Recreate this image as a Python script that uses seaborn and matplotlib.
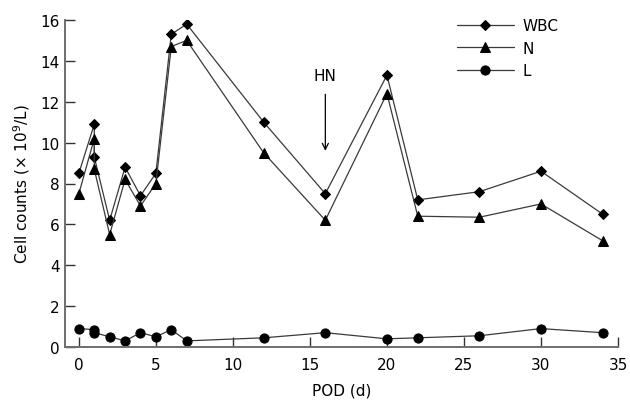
import numpy as np
import pandas as pd
import matplotlib
matplotlib.use("Agg")
import matplotlib.pyplot as plt
import seaborn as sns

# %% veriler
pod = [0, 1, 1, 2, 3, 4, 5, 6, 7, 12, 16, 20, 22, 26, 30, 34]
wbc = [8.5, 10.9, 9.3, 6.2, 8.8, 7.4, 8.5, 15.3, 15.8, 11.0, 7.5, 13.3, 7.2, 7.6, 8.6, 6.5]
n = [7.5, 10.2, 8.7, 5.5, 8.2, 6.9, 8.0, 14.7, 15.0, 9.5, 6.2, 12.4, 6.4, 6.35, 7.0, 5.2]
l = [0.9, 0.85, 0.7, 0.5, 0.3, 0.7, 0.5, 0.85, 0.3, 0.45, 0.7, 0.4, 0.45, 0.55, 0.9, 0.7]
seriler = ["WBC", "N", "L"]
isaretler = {"WBC": "D", "N": "^", "L": "o"}
# işaret boyutları (nokta)
boyutlar = {"D": 5.6, "^": 6.8, "o": 6.6}

veri = pd.DataFrame({
    "POD": pod * 3,
    "sayi": wbc + n + l,
    "seri": [s for s in seriler for _ in pod],
})

# %% grafik
sns.set_style("ticks")
plt.rcParams["font.family"] = ["DejaVu Sans"]
plt.rcParams["text.color"] = "black"
plt.rcParams["axes.labelcolor"] = "black"

fig, ax = plt.subplots(figsize=(6.3, 4.1), dpi=100)
fig.subplots_adjust(left=65/630, right=618/630, top=1-21/410, bottom=1-348/410)

sns.lineplot(data=veri, x="POD", y="sayi", hue="seri", style="seri",
             markers=isaretler, dashes=False, estimator=None, sort=False,
             palette=["#3a3a3a"] * 3, linewidth=0.9, markersize=6.5,
             markerfacecolor="black", markeredgecolor="black", ax=ax)

ax.set_xlim(-0.9, 35)
ax.set_ylim(0, 16)
ax.set_xticks(np.arange(0, 36, 5))
ax.set_yticks(np.arange(0, 17, 2))
ax.set_xlabel("POD (d)", fontsize=11, labelpad=8)
ax.set_ylabel("Cell counts (× 10$^9$/L)", fontsize=11, labelpad=6)

sns.despine(ax=ax)
for k in ["left", "bottom"]:
    ax.spines[k].set_color("#6e6e6e")
    ax.spines[k].set_linewidth(1.4)
ax.tick_params(axis="both", direction="in", length=7.5, width=1,
               color="#333333", labelsize=11, labelcolor="black")
ax.tick_params(axis="x", pad=7)
ax.tick_params(axis="y", pad=4)

ax.annotate("HN", xy=(16, 9.6), xytext=(16, 13.3), ha="center", va="center",
            fontsize=11,
            arrowprops=dict(arrowstyle="->", color="black", lw=0.9,
                            shrinkA=6, shrinkB=0))

sns.move_legend(ax, "upper left", bbox_to_anchor=(457/630, 1-19/410),
                bbox_transform=fig.transFigure, frameon=False, title=None,
                fontsize=11, handlelength=3.7, handletextpad=0.6,
                labelspacing=0.5, borderpad=0, borderaxespad=0)

# işaret boyutlarını tek tek ayarla (çizgiler ve lejant)
for cizgi in ax.lines + ax.get_legend().get_lines():
    m = cizgi.get_marker()
    if m in boyutlar:
        cizgi.set_markersize(boyutlar[m])

fig.savefig("out.png", dpi=100)
